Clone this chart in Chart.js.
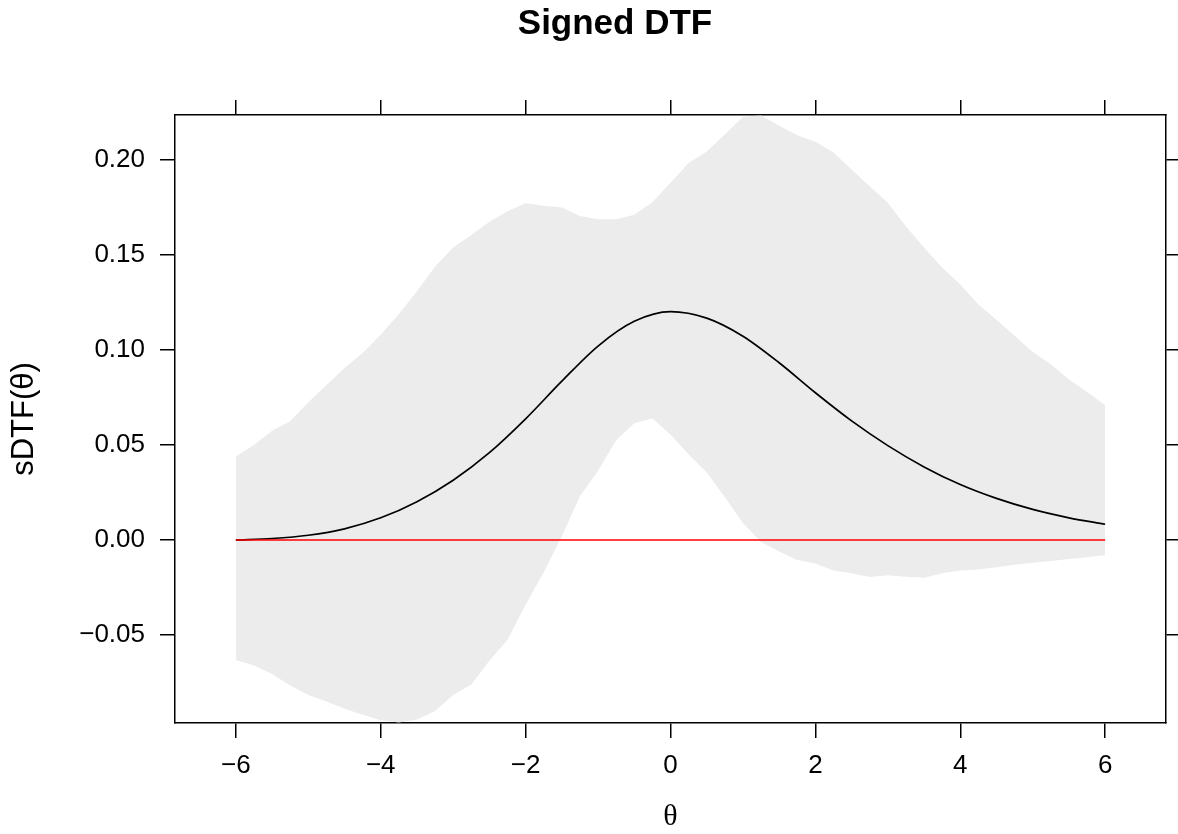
<!DOCTYPE html>
<html>
<head>
<meta charset="utf-8">
<script src="https://cdn.jsdelivr.net/npm/chart.js@4.4.1/dist/chart.umd.min.js"></script>
<style>
html,body{margin:0;padding:0;background:#ffffff;}
#wrap{width:1178px;height:834px;}
</style>
</head>
<body>
<div id="wrap"><canvas id="c" width="1178" height="834"></canvas></div>
<script>
// ---- data ----
const thetaLine = [-6,-5.5,-5,-4.5,-4,-3.5,-3,-2.5,-2,-1.5,-1,-0.5,0,0.5,1,1.5,2,2.5,3,3.5,4,4.5,5,5.5,6];
const sdtfLine  = [0.0000,0.0008,0.0025,0.0059,0.0117,0.0202,0.0315,0.0460,0.0638,0.0836,0.1021,0.1151,0.1202,0.1168,0.1073,0.0933,0.0775,0.0627,0.0497,0.0385,0.0292,0.0219,0.0161,0.0117,0.0083];

const thetaBand = [-6,-5.75,-5.5,-5.25,-5,-4.75,-4.5,-4.25,-4,-3.75,-3.5,-3.25,-3,-2.75,-2.5,-2.25,-2,-1.75,-1.5,-1.25,-1,-0.75,-0.5,-0.25,0,0.25,0.5,0.75,1,1.25,1.5,1.75,2,2.25,2.5,2.75,3,3.25,3.5,3.75,4,4.25,4.5,4.75,5,5.25,5.5,5.75,6];
const bandUpper = [0.0439,0.0500,0.0575,0.0625,0.0725,0.0815,0.0905,0.0985,0.1080,0.1190,0.1310,0.1440,0.1540,0.1605,0.1675,0.1730,0.1772,0.1760,0.1750,0.1705,0.1688,0.1688,0.1712,0.1778,0.1880,0.1985,0.2045,0.2135,0.2228,0.2235,0.2180,0.2130,0.2096,0.2040,0.1950,0.1862,0.1775,0.1650,0.1540,0.1435,0.1345,0.1240,0.1160,0.1075,0.0990,0.0925,0.0845,0.0780,0.0710];
const bandLower = [-0.0632,-0.0660,-0.0705,-0.0765,-0.0815,-0.0850,-0.0888,-0.0920,-0.0948,-0.0960,-0.0945,-0.0900,-0.0815,-0.0760,-0.0635,-0.0525,-0.0340,-0.0170,0.0020,0.0230,0.0365,0.0525,0.0615,0.0640,0.0555,0.0450,0.0355,0.0225,0.0090,-0.0010,-0.0060,-0.0105,-0.0123,-0.0160,-0.0175,-0.0195,-0.0185,-0.0193,-0.0198,-0.0175,-0.0160,-0.0155,-0.0143,-0.0130,-0.0120,-0.0110,-0.0100,-0.0090,-0.0079];

const refTheta = [-6, 6];
const refValue = [0, 0];

const xTickValues = [-6,-4,-2,0,2,4,6];
const yTickValues = [-0.05,0.00,0.05,0.10,0.15,0.20];

const titleText = 'Signed DTF';
const xTitle = 'θ';
const yTitle = 'sDTF(θ)';

// ---- helpers ----
const pts = (xs, ys) => xs.map((x, i) => ({x: x, y: ys[i]}));
const minus = '\u2212';
const fmtX = v => (v < 0 ? minus + Math.abs(v) : String(v));
const fmtY = v => (v < -1e-9 ? minus + Math.abs(v).toFixed(2) : Math.abs(v).toFixed(2));
const SANS = "'Liberation Sans', Arial, Helvetica, sans-serif";
const SERIF = "'Liberation Serif', 'DejaVu Serif', serif";

const X_RANGE = {min: -6.84, max: 6.84};
const Y_RANGE = {min: -0.0963, max: 0.2237};

const gridOpts = {drawOnChartArea: false, drawTicks: true, tickLength: 15, color: '#000000', lineWidth: 1.5};
const borderOpts = {display: true, color: '#000000', width: 1.5};
const tickFont = {family: SANS, size: 26};

const titleShift = {
  id: 'titleShift',
  afterLayout(chart) {
    const t = chart.titleBlock;
    if (t) { t.left = 52; t.right = 1178; }
  }
};

new Chart(document.getElementById('c'), {
  type: 'line',
  data: {
    datasets: [
      {
        label: 'reference',
        data: pts(refTheta, refValue),
        borderColor: '#FF0000',
        borderWidth: 1.5,
        pointRadius: 0,
        fill: false,
        xAxisID: 'x', yAxisID: 'y'
      },
      {
        label: 'sDTF',
        data: pts(thetaLine, sdtfLine),
        borderColor: '#000000',
        borderWidth: 1.7,
        pointRadius: 0,
        cubicInterpolationMode: 'monotone',
        fill: false,
        xAxisID: 'x', yAxisID: 'y'
      },
      {
        label: 'upper',
        data: pts(thetaBand, bandUpper),
        borderColor: 'rgba(0,0,0,0)',
        borderWidth: 1,
        backgroundColor: '#ECECEC',
        pointRadius: 0,
        tension: 0,
        fill: '+1',
        xAxisID: 'x', yAxisID: 'y'
      },
      {
        label: 'lower',
        data: pts(thetaBand, bandLower),
        borderColor: 'rgba(0,0,0,0)',
        borderWidth: 1,
        pointRadius: 0,
        tension: 0,
        fill: false,
        xAxisID: 'x', yAxisID: 'y'
      }
    ]
  },
  options: {
    responsive: false,
    animation: false,
    events: [],
    layout: {padding: 0},
    plugins: {
      legend: {display: false},
      tooltip: {enabled: false},
      filler: {drawTime: 'beforeDatasetsDraw'},
      title: {
        display: true,
        text: titleText,
        color: '#000000',
        font: {family: SANS, size: 35, weight: 'bold', lineHeight: 1},
        padding: {top: 7, bottom: 0}
      }
    },
    scales: {
      x: {
        type: 'linear', position: 'bottom',
        min: X_RANGE.min, max: X_RANGE.max,
        afterBuildTicks: s => { s.ticks = xTickValues.map(v => ({value: v})); },
        afterFit: s => { s.height = 111; },
        grid: gridOpts, border: borderOpts,
        ticks: {color: '#000000', font: tickFont, padding: 12, maxRotation: 0, autoSkip: false, callback: fmtX},
        title: {display: true, text: xTitle, color: '#000000', font: {family: SERIF, size: 30, lineHeight: 1}, padding: {top: 0, bottom: 2}}
      },
      x2: {
        type: 'linear', position: 'top',
        min: X_RANGE.min, max: X_RANGE.max,
        afterBuildTicks: s => { s.ticks = xTickValues.map(v => ({value: v})); },
        afterFit: s => { s.height = 73; },
        grid: gridOpts, border: borderOpts,
        ticks: {display: false}
      },
      y: {
        type: 'linear', position: 'left',
        min: Y_RANGE.min, max: Y_RANGE.max,
        afterBuildTicks: s => { s.ticks = yTickValues.map(v => ({value: v})); },
        afterFit: s => { s.width = 175; },
        grid: gridOpts, border: borderOpts,
        ticks: {color: '#000000', font: tickFont, padding: 15, autoSkip: false, callback: fmtY},
        title: {display: true, text: yTitle, color: '#000000', font: {family: SANS, size: 31, lineHeight: 1}, padding: {top: 9, bottom: 0}}
      },
      y2: {
        type: 'linear', position: 'right',
        min: Y_RANGE.min, max: Y_RANGE.max,
        afterBuildTicks: s => { s.ticks = yTickValues.map(v => ({value: v})); },
        afterFit: s => { s.width = 12; },
        grid: gridOpts, border: borderOpts,
        ticks: {display: false}
      }
    }
  },
  plugins: [titleShift]
});
</script>
</body>
</html>
